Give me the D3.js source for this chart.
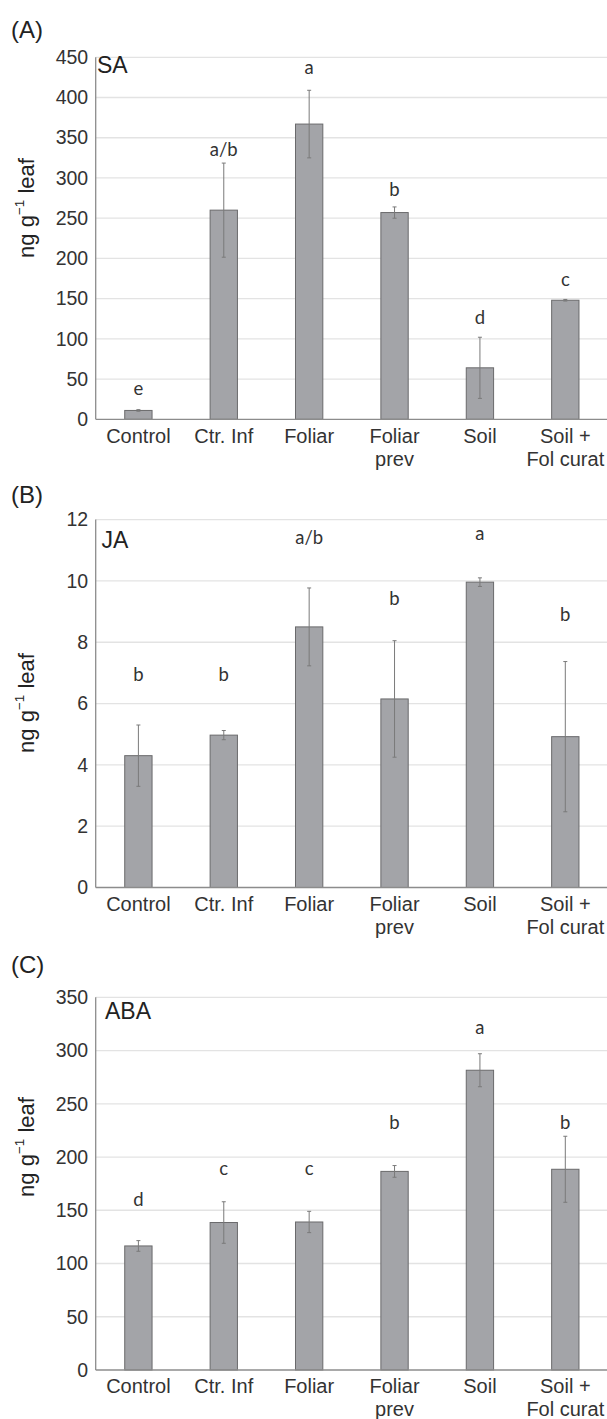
<!DOCTYPE html>
<html><head><meta charset="utf-8">
<script src="https://cdn.jsdelivr.net/npm/d3@7/dist/d3.min.js"></script>
<style>
html,body{margin:0;padding:0;background:#fff;}
svg{display:block;}
</style></head>
<body>
<svg id="chart" width="607" height="1419"></svg>
<script>
// ---------- data ----------
const categories = [["Control"], ["Ctr. Inf"], ["Foliar"], ["Foliar", "prev"], ["Soil"], ["Soil +", "Fol curat"]];

const saValues = [11, 260, 367, 257, 64, 148];
const saErrors = [1, 58.5, 42, 7, 38, 1];
const saLetters = ["e", "a/b", "a", "b", "d", "c"];
const saLetterAt = [38.5, 335, 437, 286, 126, 174];
const saTicks = [0, 50, 100, 150, 200, 250, 300, 350, 400, 450];

const jaValues = [4.3, 4.97, 8.5, 6.15, 9.96, 4.92];
const jaErrors = [1.0, 0.15, 1.27, 1.9, 0.14, 2.45];
const jaLetters = ["b", "b", "a/b", "b", "a", "b"];
const jaLetterAt = [6.96, 6.96, 11.42, 9.43, 11.56, 8.92];
const jaTicks = [0, 2, 4, 6, 8, 10, 12];

const abaValues = [116.5, 138.5, 139, 186.5, 281.5, 188.5];
const abaErrors = [5, 19.5, 10, 5.5, 15.5, 31];
const abaLetters = ["d", "c", "c", "b", "a", "b"];
const abaLetterAt = [160, 189, 189, 232, 322, 232];
const abaTicks = [0, 50, 100, 150, 200, 250, 300, 350];

const panelTags = ["(A)", "(B)", "(C)"];
const panelNames = ["SA", "JA", "ABA"];
const yLabelMain = "ng g";
const yLabelSup = "\u22121";
const yLabelEnd = " leaf";

// ---------- layout ----------
const panels = [
  {tag: panelTags[0], name: panelNames[0], values: saValues, errors: saErrors, letters: saLetters, letterAt: saLetterAt, ticks: saTicks,
   top: 57.3, bottom: 419.3, tagY: 30, nameX: 97, nameY: 72.5, yLabelC: 208},
  {tag: panelTags[1], name: panelNames[1], values: jaValues, errors: jaErrors, letters: jaLetters, letterAt: jaLetterAt, ticks: jaTicks,
   top: 519.6, bottom: 887.5, tagY: 495, nameX: 101.5, nameY: 548, yLabelC: 703},
  {tag: panelTags[2], name: panelNames[2], values: abaValues, errors: abaErrors, letters: abaLetters, letterAt: abaLetterAt, ticks: abaTicks,
   top: 997.3, bottom: 1370, tagY: 965, nameX: 105, nameY: 1018.5, yLabelC: 1147}
];

const svg = d3.select("#chart");
const axisX = 95.7, rightX = 608;
const sans = "'Liberation Sans', Arial, sans-serif";
const textCol = "#333";

const x = d3.scaleBand()
  .domain(d3.range(categories.length))
  .range([axisX, rightX])
  .paddingInner(0.68)
  .paddingOuter(0.34);

panels.forEach(p => {
  const ext = d3.extent(p.ticks);
  const y = d3.scaleLinear().domain(ext).range([p.bottom, p.top]);
  const g = svg.append("g");

  // gridlines
  g.selectAll("line.grid").data(p.ticks.filter(t => t !== 0)).join("line")
    .attr("x1", axisX).attr("x2", 607)
    .attr("y1", d => y(d)).attr("y2", d => y(d))
    .attr("stroke", "#e3e3e3").attr("stroke-width", 1.3);

  // y axis via d3.axisLeft (ticks hidden, labels only)
  const ax = g.append("g").attr("transform", `translate(${axisX},0)`)
    .call(d3.axisLeft(y).tickValues(p.ticks).tickSize(0).tickPadding(7.5).tickFormat(d3.format("d")));
  ax.select(".domain").remove();
  ax.selectAll("text").attr("font-family", sans).attr("font-size", 19.5).attr("fill", textCol);

  // bars
  g.selectAll("rect.bar").data(p.values).join("rect")
    .attr("x", (d, i) => x(i)).attr("width", x.bandwidth())
    .attr("y", d => y(d)).attr("height", d => y(0) - y(d))
    .attr("fill", "#a3a4a8").attr("stroke", "#6a6a6c").attr("stroke-width", 1);

  // error bars
  const eb = g.selectAll("g.err").data(p.values).join("g");
  eb.append("line")
    .attr("x1", (d, i) => x(i) + x.bandwidth() / 2).attr("x2", (d, i) => x(i) + x.bandwidth() / 2)
    .attr("y1", (d, i) => y(d + p.errors[i])).attr("y2", (d, i) => y(d - p.errors[i]))
    .attr("stroke", "#7a7a7a").attr("stroke-width", 1);
  [1, -1].forEach(s => {
    eb.append("line")
      .attr("x1", (d, i) => x(i) + x.bandwidth() / 2 - 2).attr("x2", (d, i) => x(i) + x.bandwidth() / 2 + 2)
      .attr("y1", (d, i) => y(d + s * p.errors[i])).attr("y2", (d, i) => y(d + s * p.errors[i]))
      .attr("stroke", "#7a7a7a").attr("stroke-width", 1);
  });

  // axis lines
  g.append("line").attr("x1", axisX).attr("x2", axisX).attr("y1", y(ext[1])).attr("y2", y(0))
    .attr("stroke", "#8c8c8c").attr("stroke-width", 1.3);
  g.append("line").attr("x1", axisX).attr("x2", 607).attr("y1", y(0)).attr("y2", y(0))
    .attr("stroke", "#8c8c8c").attr("stroke-width", 1.3);

  // significance letters
  g.selectAll("text.let").data(p.letters).join("text")
    .attr("x", (d, i) => x(i) + x.bandwidth() / 2)
    .attr("y", (d, i) => y(p.letterAt[i]))
    .attr("dy", "0.35em")
    .attr("text-anchor", "middle")
    .attr("font-family", "Lato, 'Open Sans', sans-serif").attr("font-size", 18.5)
    .attr("fill", textCol)
    .text(d => d);

  // category labels
  const cl = g.selectAll("text.cat").data(categories).join("text")
    .attr("text-anchor", "middle")
    .attr("font-family", sans).attr("font-size", 20).attr("fill", textCol);
  cl.selectAll("tspan").data((d, i) => d.map(s => ({s, i}))).join("tspan")
    .attr("x", d => x(d.i) + x.bandwidth() / 2)
    .attr("y", (d, j) => y(0) + 23.2 + j * 23)
    .text(d => d.s);

  // panel tag
  g.append("text").attr("x", 11).attr("y", p.tagY).attr("dy", "0.35em")
    .attr("font-family", sans).attr("font-size", 24).attr("fill", "#222").text(p.tag);

  // panel name
  g.append("text").attr("x", p.nameX).attr("y", p.nameY)
    .attr("font-family", sans).attr("font-size", 23).attr("fill", "#222").text(p.name);

  // y label
  const yl = g.append("text")
    .attr("transform", `translate(34,${p.yLabelC}) rotate(-90)`)
    .attr("text-anchor", "middle")
    .attr("font-family", sans).attr("font-size", 22).attr("fill", "#222");
  yl.append("tspan").text(yLabelMain);
  yl.append("tspan").attr("font-size", 13.5).attr("dy", "-0.75em").text(yLabelSup);
  yl.append("tspan").attr("dy", "0.46em").text(yLabelEnd);
});
</script>
</body></html>
